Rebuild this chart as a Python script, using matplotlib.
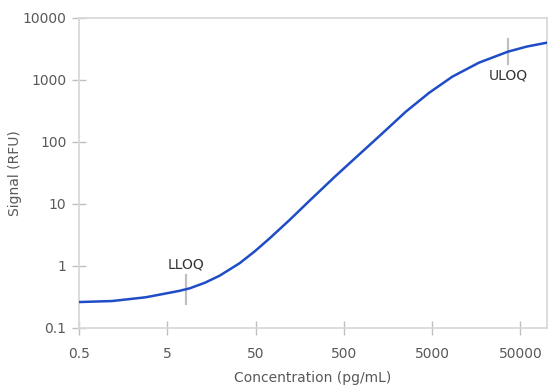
import matplotlib; matplotlib.use('Agg')
import matplotlib.pyplot as plt
import numpy as np

# standard curve (pg/mL vs RFU)
conc = [0.5, 1.18, 2.86, 6.74, 8.97, 13.3, 19.6, 32.9, 48.6, 71.9, 121, 203, 390, 746, 1358, 2515, 4610, 8450, 16900, 36000, 59000, 100000]
signal = [0.262, 0.272, 0.313, 0.395, 0.436, 0.536, 0.698, 1.106, 1.71, 2.78, 5.5, 11.2, 27.1, 63, 137, 308, 620, 1130, 1900, 2860, 3460, 4000]
lloq = 8.15
uloq = 36000
x_ticks = [0.5, 5, 50, 500, 5000, 50000]
x_labels = ['0.5', '5', '50', '500', '5000', '50000']
y_ticks = [0.1, 1, 10, 100, 1000, 10000]
y_labels = ['0.1', '1', '10', '100', '1000', '10000']

GRAY = '#d9d9d9'; TXT = '#595959'

fig = plt.figure(figsize=(5.48, 3.87), dpi=100)
ax = fig.add_axes([0.1442, 0.1525, 0.8540, 0.8010])
ax.set_xscale('log'); ax.set_yscale('log')
ax.plot(conc, signal, color='#1f4cc7', lw=1.8, solid_capstyle='round', solid_joinstyle='round', zorder=3)
ax.set_xlim(0.5, 100000); ax.set_ylim(0.1, 10000)

# LLOQ / ULOQ markers on the curve
lx, ly = np.log10(conc), np.log10(signal)
for q, name, f, dy in [(lloq, 'LLOQ', 1.7, 0.40), (uloq, 'ULOQ', 1.6, -0.39)]:
    yq = 10 ** np.interp(np.log10(q), lx, ly)
    ax.plot([q, q], [yq / f, yq * f], color='#c0c0c0', lw=1.6, zorder=2)
    ax.text(q, yq * 10 ** dy, name, ha='center', va='center', fontsize=10, color='#333333')

ax.set_xticks(x_ticks); ax.set_xticklabels(x_labels)
ax.set_yticks(y_ticks); ax.set_yticklabels(y_labels)
ax.minorticks_off()
ax.tick_params(axis='both', direction='inout', length=10, width=1, color='#bfbfbf', labelcolor=TXT, labelsize=10)
ax.tick_params(axis='x', pad=9)
ax.tick_params(axis='y', pad=4)
for s in ax.spines.values():
    s.set_color(GRAY); s.set_linewidth(1.3)
ax.text(0.5, -0.161, 'Concentration (pg/mL)', transform=ax.transAxes, ha='center', va='center', fontsize=10, color=TXT)
ax.text(-0.136, 0.5, 'Signal (RFU)', transform=ax.transAxes, ha='center', va='center', rotation=90, fontsize=10, color=TXT)

fig.savefig('out.png', dpi=100)
